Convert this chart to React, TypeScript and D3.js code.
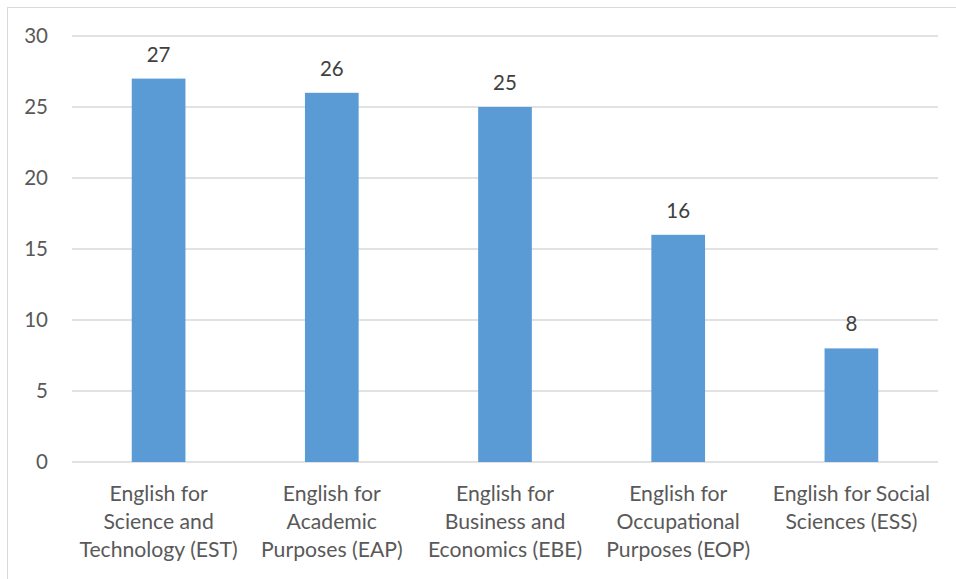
import React from "react";
import * as d3 from "d3";

const categories = [
  ["English for", "Science and", "Technology (EST)"],
  ["English for", "Academic", "Purposes (EAP)"],
  ["English for", "Business and", "Economics (EBE)"],
  ["English for", "Occupational", "Purposes (EOP)"],
  ["English for Social", "Sciences (ESS)"],
];
const values = [27, 26, 25, 16, 8];
const yTicks = [0, 5, 10, 15, 20, 25, 30];

export default function App() {
  const W = 956, H = 579;
  const left = 72, right = 938, top = 36, bottom = 462;
  const x = d3.scaleBand<number>().domain(values.map((_, i) => i)).range([left, right]).paddingInner(0.69).paddingOuter(0.345);
  const y = d3.scaleLinear().domain([0, 30]).range([bottom, top]);
  const font = "Lato, sans-serif";
  const col = "#595959";
  return (
    <svg width={W} height={H} style={{ position: "absolute", left: 0, top: 0 }}>
      <rect x={0} y={0} width={W} height={H} fill="#fff" />
      <rect x={7.5} y={7.5} width={W + 20} height={H + 20} fill="none" stroke="#d9d9d9" strokeWidth={1} />
      {yTicks.map((t) => (
        <g key={t}>
          <line x1={left} x2={right} y1={y(t)} y2={y(t)} stroke="#d9d9d9" strokeWidth={1.3} />
          <text x={48} y={y(t)} dy="0.35em" textAnchor="end" fontFamily={font} fontSize={20.5} fill={col}>{t}</text>
        </g>
      ))}
      {values.map((v, i) => (
        <g key={i}>
          <rect x={x(i)} y={y(v)} width={x.bandwidth()} height={y(0) - y(v)} fill="#5B9BD5" />
          <text x={x(i)! + x.bandwidth() / 2} y={y(v) - 17} textAnchor="middle" fontFamily={font} fontSize={20.5} fill="#404040">{v}</text>
        </g>
      ))}
      {categories.map((lines, i) => (
        <text key={i} textAnchor="middle" fontFamily={font} fontSize={21.2} fill={col}>
          {lines.map((l, j) => (
            <tspan key={j} x={x(i)! + x.bandwidth() / 2} y={501 + j * 28}>{l}</tspan>
          ))}
        </text>
      ))}
    </svg>
  );
}
